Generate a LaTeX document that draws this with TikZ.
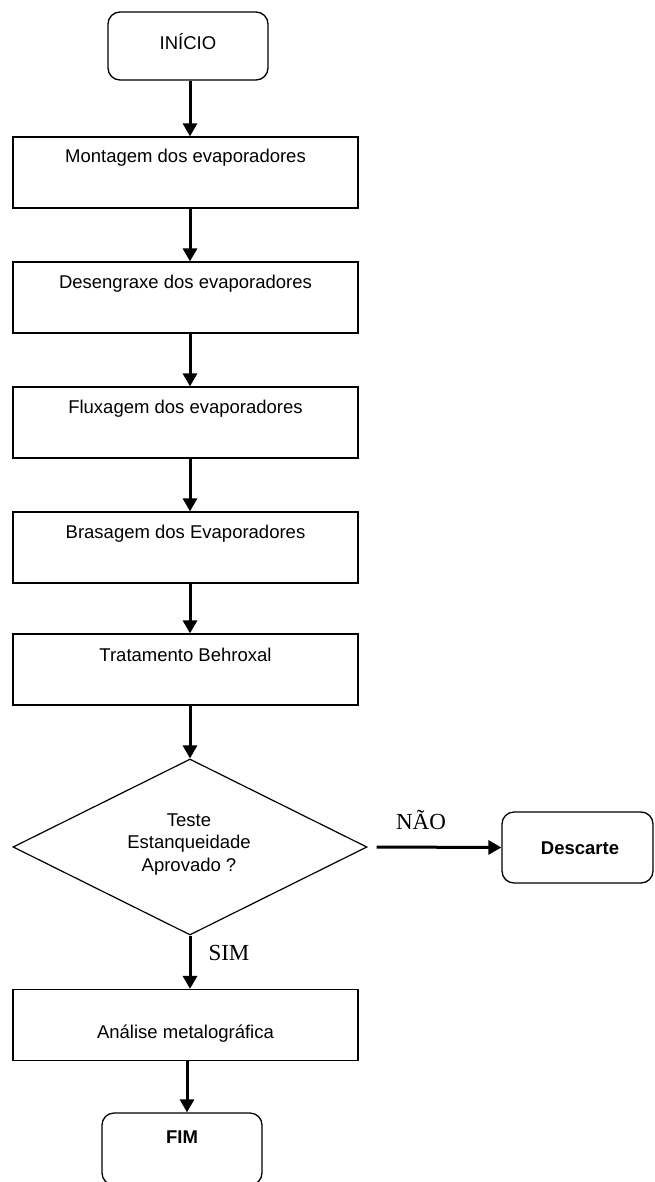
\documentclass[tikz,border=0pt]{standalone}
\usepackage{fontspec}
\setmainfont{Liberation Sans}
\newfontfamily\labelserif{Liberation Serif}
\usetikzlibrary{arrows.meta,shapes.geometric}

\begin{document}
\begin{tikzpicture}[x=1pt,y=-1pt,
  font=\fontsize{18.5}{22.5}\selectfont,
  stepbox/.style={draw,line width=1.2pt,minimum width=345pt,minimum height=71pt,inner sep=0pt},
  termbox/.style={draw,line width=1.3pt,rounded corners=12pt,inner sep=0pt},
  boxtext/.style={anchor=base,inner sep=0pt},
  branchlabel/.style={anchor=base,inner sep=0pt,font=\labelserif\fontsize{23}{26}\selectfont},
  flow/.style={line width=3pt,-{Triangle[length=13pt,width=14pt]}}]

\useasboundingbox (0,0) rectangle (654,1182);
\fill[white] (0,0) rectangle (654,1182);

% column of the main connectors
\coordinate (col) at (190,0);
\coordinate (colend) at (187,0);

% start terminal
\node[termbox,minimum width=160pt,minimum height=68pt] (start) at (188,46) {};
\node[boxtext] (startt) at (188,49.6) {INÍCIO};

% process steps
\node[stepbox] (b1) at (185.5,172.5) {};
\node[boxtext] (b1t) at (185.5,163) {Montagem dos evaporadores};

\node[stepbox] (b2) at (185.5,297.5) {};
\node[boxtext] (b2t) at (185.5,288) {Desengraxe dos evaporadores};

\node[stepbox] (b3) at (185.5,422.5) {};
\node[boxtext] (b3t) at (185.5,413) {Fluxagem dos evaporadores};

\node[stepbox] (b4) at (185.5,547.5) {};
\node[boxtext] (b4t) at (185.5,538) {Brasagem dos Evaporadores};

\node[stepbox] (b5) at (185.5,669.5) {};
\node[boxtext] (b5t) at (185.5,661) {Tratamento Behroxal};

% decision
\node[diamond,draw,line width=1.2pt,minimum width=354pt,minimum height=176pt,inner sep=0pt,aspect=2] (d) at (190,847) {};
\node[align=center,inner sep=0pt] (dt) at (189,844.5) {Teste\\Estanqueidade\\Aprovado ?};

% reject terminal
\node[termbox,minimum width=151pt,minimum height=71pt] (desc) at (577.5,847.5) {};
\node[boxtext,font=\bfseries\fontsize{18.5}{22.5}\selectfont] (desct) at (580,854.6) {Descarte};

% analysis step
\node[stepbox] (b6) at (185.5,1025) {};
\node[boxtext] (b6t) at (185.5,1038) {Análise metalográfica};

% end terminal
\node[termbox,minimum width=160pt,minimum height=72pt] (fim) at (182,1149) {};
\node[boxtext,font=\bfseries\fontsize{18.5}{22.5}\selectfont] (fimt) at (182,1143.6) {FIM};

% connectors
\draw[flow] (start.south -| col) -- (b1.north -| col);
\draw[flow] (b1.south -| col) -- (b2.north -| col);
\draw[flow] (b2.south -| col) -- (b3.north -| col);
\draw[flow] (b3.south -| col) -- (b4.north -| col);
\draw[flow] (b4.south -| col) -- (b5.north -| col);
\draw[flow] (b5.south -| col) -- (d.north);
\draw[flow] ([xshift=9pt]d.east) -- (desc.west);
\draw[flow] (d.south) -- (b6.north -| d.south);
\draw[flow] (b6.south -| colend) -- (fim.north -| colend);

% branch labels
\node[branchlabel] (no) at (421,829.6) {NÃO};
\node[branchlabel] (yes) at (229,960.6) {SIM};
\end{tikzpicture}
\end{document}
